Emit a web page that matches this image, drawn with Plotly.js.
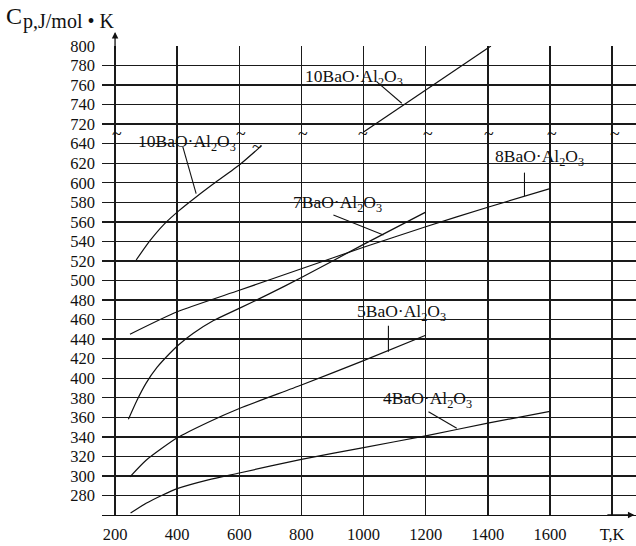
<!DOCTYPE html>
<html><head><meta charset="utf-8">
<script src="https://cdn.plot.ly/plotly-3.0.1.min.js"></script>
<style>html,body{margin:0;padding:0;background:#fff}#c{width:636px;height:546px}</style>
</head><body><div id="c"></div>
<script>
// Temperature (K) and heat capacity Cp (J/mol·K)
const T4 = [250, 300, 350, 400, 500, 600, 800, 1000, 1200, 1400, 1600];
const cp4 = [262, 272, 280, 287, 296, 303, 317, 329, 341, 354, 366];
const T5 = [248, 300, 400, 500, 600, 800, 1000, 1200];
const cp5 = [299, 316, 339, 355, 369, 393, 418, 444];
const T7 = [243, 270, 300, 335, 375, 404, 452, 517, 603, 688, 800, 1000, 1200];
const cp7 = [358, 377, 395, 411, 425, 434, 446, 459, 472, 485, 503, 537, 570];
const T8 = [248, 400, 600, 800, 1000, 1200, 1400, 1600];
const cp8 = [445, 468, 490, 512, 534, 555, 575, 594];
const T10a = [268, 313, 356, 404, 463, 517, 603, 672];
const cp10a = [521, 541, 557, 571, 586, 599, 619, 638];
const T10b = [1000, 1410];
const cp10b = [712, 800];

const xTicks = [200, 400, 600, 800, 1000, 1200, 1400, 1600, 1800];
const xTickText = ['200', '400', '600', '800', '1000', '1200', '1400', '1600', 'T,K'];
const yTickValues = [280,300,320,340,360,380,400,420,440,460,480,500,520,540,560,580,600,620,640,720,740,760,780,800];
const seriesNames = ['4BaO·Al<sub>2</sub>O<sub>3</sub>','5BaO·Al<sub>2</sub>O<sub>3</sub>','7BaO·Al<sub>2</sub>O<sub>3</sub>','8BaO·Al<sub>2</sub>O<sub>3</sub>','10BaO·Al<sub>2</sub>O<sub>3</sub>'];

// broken axis: values above the break (>=720) are shifted down by 60
const BREAK_SHIFT = 60;
function disp(v){ return v >= 700 ? v - BREAK_SHIFT : v; }
function dispArr(a){ return a.map(disp); }

const serif = 'Liberation Serif, Times New Roman, serif';
const lineStyle = {color: '#111', width: 1.2, shape: 'spline', smoothing: 0.6};
function tr(x, y, name){ return {x: x, y: dispArr(y), mode: 'lines', name: name, line: lineStyle, hoverinfo: 'skip'}; }

const data = [
  tr(T4, cp4, seriesNames[0]),
  tr(T5, cp5, seriesNames[1]),
  tr(T7, cp7, seriesNames[2]),
  tr(T8, cp8, seriesNames[3]),
  tr(T10a, cp10a, seriesNames[4]),
  Object.assign(tr(T10b, cp10b, seriesNames[4]), {line: {color: '#111', width: 1.2}})
];

// label positions (T, display y) and leader lines
const labels = [
  {name: seriesNames[4], x: 970, y: 708, lx: [1042, 1123], ly: [703.5, 681.4]},
  {name: seriesNames[4], x: 432, y: 641, lx: [418, 461], ly: [637, 589]},
  {name: seriesNames[2], x: 915, y: 579, lx: [903, 1064], ly: [567, 546.6]},
  {name: seriesNames[3], x: 1565, y: 626, lx: [1518, 1518], ly: [610.4, 586.5]},
  {name: seriesNames[1], x: 1121, y: 467, lx: [1080, 1080], ly: [453.8, 427]},
  {name: seriesNames[0], x: 1205, y: 378, lx: [1209, 1300], ly: [365.7, 348.7]}
];

const annotations = [];
const shapes = [];
labels.forEach(l => {
  annotations.push({x: l.x, y: l.y, xref: 'x', yref: 'y', text: l.name, showarrow: false,
    font: {family: serif, size: 17.5, color: '#111'}});
  shapes.push({type: 'line', xref: 'x', yref: 'y', x0: l.lx[0], x1: l.lx[1], y0: l.ly[0], y1: l.ly[1],
    line: {color: '#111', width: 1.1}});
});

// break marks
const tildeX = [206, 605, 657, 805, 998, 1208, 1404, 1607, 1810];
const tildeY = [650, 650, 637, 650, 650, 650, 650, 650, 650];
tildeX.forEach((x, i) => annotations.push({x: x, y: tildeY[i], xref: 'x', yref: 'y', text: '~', showarrow: false,
  font: {family: serif, size: 18, color: '#111'}}));

// axis arrows
annotations.push({x: 200, y: 1.03, xref: 'x', yref: 'paper', ax: 200, ay: 0.99, axref: 'x', ayref: 'paper',
  showarrow: true, arrowhead: 2, arrowsize: 1, arrowwidth: 1.3, arrowcolor: '#111', text: ''});
annotations.push({x: 1872, y: 260, xref: 'x', yref: 'y', ax: 1780, ay: 260, axref: 'x', ayref: 'y',
  showarrow: true, arrowhead: 2, arrowsize: 1, arrowwidth: 1.3, arrowcolor: '#111', text: ''});

// y-axis title
annotations.push({x: -0.183, y: 1.096, xref: 'paper', yref: 'paper', xanchor: 'left', yanchor: 'top',
  text: 'C', showarrow: false, font: {family: serif, size: 24, color: '#111'}});
annotations.push({x: -0.152, y: 1.082, xref: 'paper', yref: 'paper', xanchor: 'left', yanchor: 'top',
  text: 'p,J/mol • K', showarrow: false, font: {family: serif, size: 20, color: '#111'}});

const layout = {
  width: 636, height: 546,
  margin: {l: 102, r: 0, t: 46, b: 31},
  paper_bgcolor: '#fff', plot_bgcolor: '#fff',
  showlegend: false,
  xaxis: {range: [158, 1877], tickvals: xTicks, ticktext: xTickText, showgrid: true, gridcolor: '#1a1a1a', gridwidth: 1.4,
    zeroline: false, showline: true, linecolor: '#111', linewidth: 1.4, ticks: '', ticklabelstandoff: 4,
    tickfont: {family: serif, size: 16.5, color: '#111'}},
  yaxis: {range: [260, 740], tickvals: yTickValues.map(disp), ticktext: yTickValues.map(String), showgrid: true,
    gridcolor: '#1a1a1a', gridwidth: 1.4, zeroline: false, showline: false, ticks: '', ticklabelstandoff: 6,
    tickfont: {family: serif, size: 16.5, color: '#111'}},
  annotations: annotations,
  shapes: shapes
};
Plotly.newPlot('c', data, layout, {staticPlot: true, displayModeBar: false});
</script></body></html>
